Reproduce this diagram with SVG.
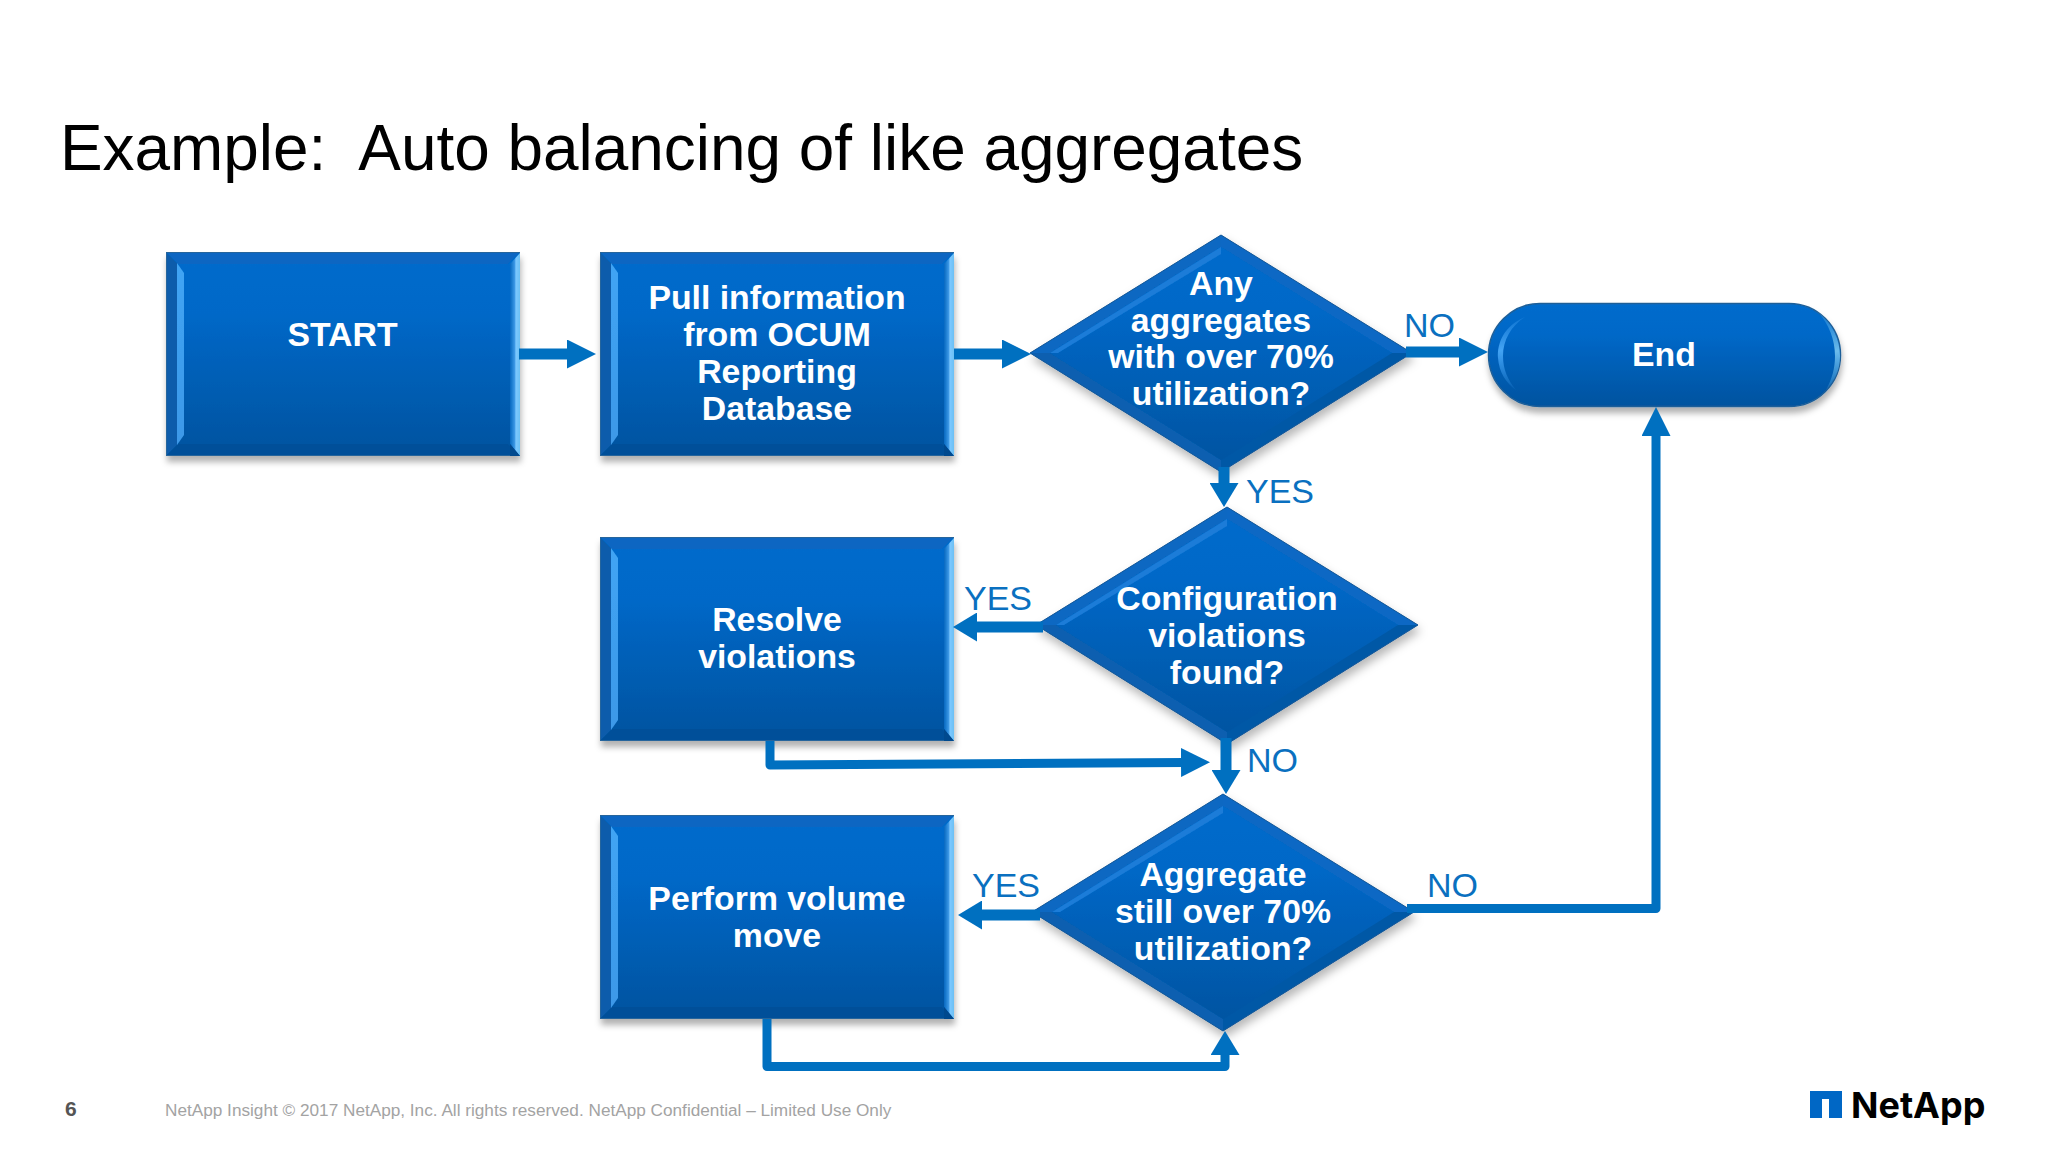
<svg xmlns="http://www.w3.org/2000/svg" xmlns:xlink="http://www.w3.org/1999/xlink" width="2048" height="1152" viewBox="0 0 2048 1152">
<style>
text{font-family:"Liberation Sans",Arial,sans-serif}
.n{font-weight:700;font-size:33.8px;fill:#fff;text-anchor:middle}
.l{font-size:34px;fill:#0a70c0}
.c{fill:none;stroke:#0070c0;stroke-linejoin:round}
.w11{stroke-width:11}
.w9{stroke-width:9}
.title{font-size:63.9px;fill:#000;white-space:pre}
.foot{font-size:17.2px;fill:#a3a3a3}
</style>
<defs>
<linearGradient id="fill" x1="0" y1="0" x2="0" y2="1"><stop offset="0" stop-color="#006ccc"/><stop offset="0.3" stop-color="#0068c8"/><stop offset="1" stop-color="#00539f"/></linearGradient>
<linearGradient id="hiL" x1="0" y1="0" x2="0" y2="1"><stop offset="0" stop-color="#40a4f4"/><stop offset="1" stop-color="#3c98e8"/></linearGradient>
<linearGradient id="hiR" x1="0" y1="0" x2="1" y2="0"><stop offset="0" stop-color="#0868c0"/><stop offset="0.45" stop-color="#3a96e4"/><stop offset="0.6" stop-color="#7cc8ff"/><stop offset="1" stop-color="#6cc0f4"/></linearGradient>
<linearGradient id="hiP" x1="0" y1="0" x2="0" y2="1"><stop offset="0" stop-color="#3c9cf0" stop-opacity=".25"/><stop offset="0.45" stop-color="#44a4f4"/><stop offset="1" stop-color="#3c9cf0" stop-opacity=".1"/></linearGradient>
<linearGradient id="hiQ" x1="0" y1="0" x2="0" y2="1"><stop offset="0" stop-color="#5ab0e8" stop-opacity=".2"/><stop offset="0.5" stop-color="#6cbcec"/><stop offset="1" stop-color="#5ab0e8" stop-opacity=".2"/></linearGradient>
<filter id="sh" x="-10%" y="-10%" width="120%" height="125%"><feDropShadow dx="1" dy="6" stdDeviation="3" flood-color="#000" flood-opacity="0.3"/></filter>
<filter id="shd" x="-10%" y="-10%" width="120%" height="125%"><feDropShadow dx="2" dy="6" stdDeviation="5" flood-color="#000" flood-opacity="0.28"/></filter>
<marker id="a" viewBox="0 0 29 29" refX="4" refY="14.5" markerWidth="29" markerHeight="29" markerUnits="userSpaceOnUse" orient="auto"><path d="M0 0L29 14.5L0 29Z" fill="#0070c0"/></marker>
<marker id="s" viewBox="0 0 24 29" refX="4" refY="14.5" markerWidth="24" markerHeight="29" markerUnits="userSpaceOnUse" orient="auto"><path d="M0 0L24 14.5L0 29Z" fill="#0070c0"/></marker>
<g id="box">
<rect x=".5" y=".5" width="353" height="203" fill="url(#fill)" stroke="#27659c" stroke-width="1"/>
<path d="M1 1L12 12V192L1 203Z" fill="#0a5cab"/>
<path d="M1 203L12 192H342L353 203Z" fill="#005099"/>
<path d="M1 1L12 12H342L353 1Z" fill="#0866c2"/>
<path d="M11 11L18 21V183L11 193Z" fill="url(#hiL)"/>
<path d="M354 1L344 12V192L354 204Z" fill="url(#hiR)"/>
<path d="M344 192L354 204H344Z" fill="#00488e"/>
</g>
<g id="dia">
<path d="M190 0L381 118L190 237L-1 118Z" fill="url(#fill)"/>
<path d="M190 0L381 118L361 118L190 12Z" fill="#0868c4"/>
<path d="M190 0L-1 118L19 118L190 12Z" fill="#0867c2"/>
<path d="M-1 118L190 237L190 225L19 118Z" fill="#085fb0"/>
<path d="M381 118L190 237L190 225L361 118Z" fill="#0058a6"/>
<path d="M190 12L19 118L27 118L190 19Z" fill="#1a7cd8"/>
<path d="M190 0L381 118L190 237L-1 118Z" fill="none" stroke="#1a5a98" stroke-width="1"/>
</g>
</defs>
<rect width="2048" height="1152" fill="#fff"/>
<text class="title" x="60" y="170">Example:  Auto balancing of like aggregates</text>

<g id="node-start"><use xlink:href="#box" href="#box" x="166" y="252" filter="url(#sh)"/><text class="n" x="342.500" y="345.500">START</text></g>
<g id="node-pull"><use xlink:href="#box" href="#box" x="600" y="252" filter="url(#sh)"/>
<text class="n" x="777" y="308.500">Pull information</text><text class="n" x="777" y="345.500">from OCUM</text><text class="n" x="777" y="382.500">Reporting</text><text class="n" x="777" y="419.500">Database</text></g>
<g id="node-any"><use xlink:href="#dia" href="#dia" x="1031" y="235" filter="url(#shd)"/>
<text class="n" x="1221" y="294.500">Any</text><text class="n" x="1221" y="331.500">aggregates</text><text class="n" x="1221" y="368">with over 70%</text><text class="n" x="1221" y="405">utilization?</text></g>
<g id="node-end">
<rect x="1488.500" y="303.500" width="352" height="103" rx="51.500" fill="url(#fill)" stroke="#1f5f98" stroke-width="1.500" filter="url(#sh)"/>
<path d="M1525 317C1504 326 1497 343 1498 358C1499 372 1506 383 1516 390C1508 380 1503 370 1503 356C1503 340 1511 326 1525 317Z" fill="url(#hiP)"/>
<path d="M1818 312C1833 324 1840 340 1840 356C1840 371 1834 381 1826 390C1832 379 1835 368 1835 356C1835 340 1829 324 1818 312Z" fill="url(#hiQ)"/>
<text class="n" x="1664" y="365.500">End</text></g>
<g id="node-config"><use xlink:href="#dia" href="#dia" x="1037" y="507" filter="url(#shd)"/>
<text class="n" x="1227" y="609.500">Configuration</text><text class="n" x="1227" y="646.500">violations</text><text class="n" x="1227" y="683.500">found?</text></g>
<g id="node-resolve"><use xlink:href="#box" href="#box" x="600" y="537" filter="url(#sh)"/>
<text class="n" x="777" y="631">Resolve</text><text class="n" x="777" y="668">violations</text></g>
<g id="node-still"><use xlink:href="#dia" href="#dia" x="1033" y="794" filter="url(#shd)"/>
<text class="n" x="1223" y="885.500">Aggregate</text><text class="n" x="1223" y="922.500">still over 70%</text><text class="n" x="1223" y="959.500">utilization?</text></g>
<g id="node-perform"><use xlink:href="#box" href="#box" x="600" y="815" filter="url(#sh)"/>
<text class="n" x="777" y="909.500">Perform volume</text><text class="n" x="777" y="946.500">move</text></g>

<g id="connectors">
<path class="c w11" d="M519 354H571" marker-end="url(#a)"/>
<path class="c w11" d="M954 354H1006" marker-end="url(#a)"/>
<path class="c w11" d="M1406 352H1463" marker-end="url(#a)"/>
<path class="c w11" d="M1224 467V487" marker-end="url(#s)"/>
<path class="c w11" d="M1043 627H973" marker-end="url(#s)"/>
<path class="c w11" d="M1226 738V774" marker-end="url(#s)"/>
<path class="c w11" d="M1040 915H978" marker-end="url(#s)"/>
<path class="c w9" d="M770 741V765L1185 762.500" marker-end="url(#a)"/>
<path class="c w9" d="M1407 908.500H1656V432" marker-end="url(#a)"/>
<path class="c w9" d="M767 1019V1066.500H1225V1051" marker-end="url(#s)"/>
</g>

<g id="labels">
<text class="l" x="1404" y="337">NO</text>
<text class="l" x="1246" y="503">YES</text>
<text class="l" x="964" y="610">YES</text>
<text class="l" x="1247" y="772">NO</text>
<text class="l" x="972" y="897">YES</text>
<text class="l" x="1427" y="897">NO</text>
</g>

<text x="65" y="1116" font-size="21" font-weight="700" fill="#555">6</text>
<text class="foot" x="165" y="1116">NetApp Insight © 2017 NetApp, Inc. All rights reserved. NetApp Confidential – Limited Use Only</text>
<g id="logo">
<path d="M1810 1091H1842V1118H1829V1099H1822V1118H1810Z" fill="#0067c5"/>
<text x="1851" y="1118" font-size="36" font-weight="700" fill="#000" style="font-family:Inter,'Liberation Sans',sans-serif">NetApp</text>
</g>
</svg>
